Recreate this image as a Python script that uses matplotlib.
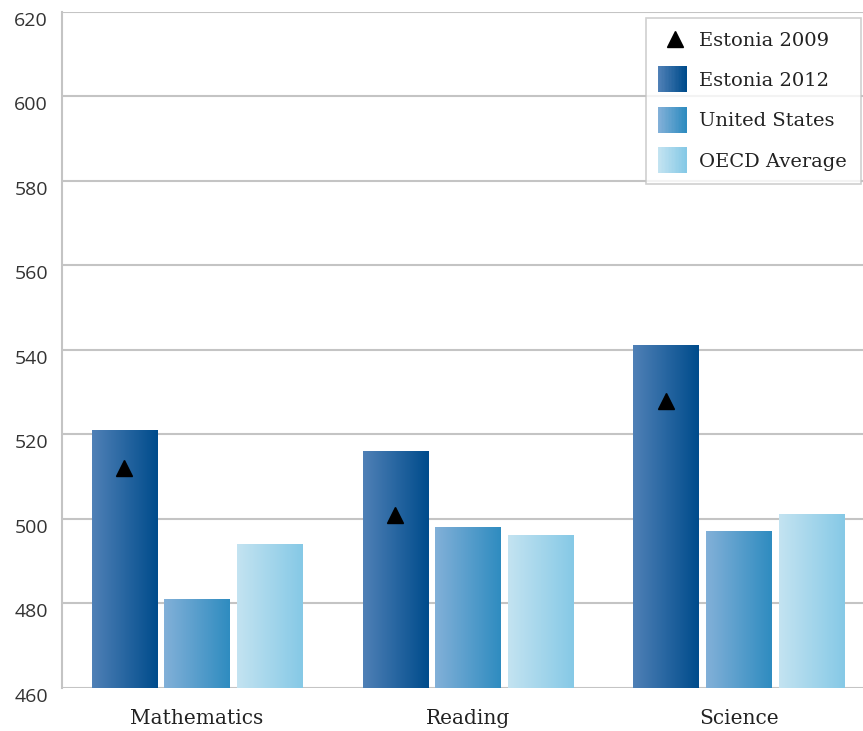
import numpy as np
import matplotlib
matplotlib.use("Agg")
import matplotlib.pyplot as plt
import matplotlib.transforms as mtransforms
from matplotlib.colors import LinearSegmentedColormap
from matplotlib.legend_handler import HandlerBase
from matplotlib.patches import Rectangle
from matplotlib.lines import Line2D

# data
subjects = ["Mathematics", "Reading", "Science"]
estonia_2012 = [521, 516, 541]
united_states = [481, 498, 497]
oecd_average = [494, 496, 501]
estonia_2009 = [512, 501, 528]
y_ticks = [460, 480, 500, 520, 540, 560, 580, 600, 620]

series_names = ["Estonia 2012", "United States", "OECD Average"]
gradients = [("#4f80b6", "#004c8c"), ("#82b0d8", "#2f8cc0"), ("#c3e3f1", "#86c9e6")]

y_min, y_max = 460, 620
bar_w = 0.24
step = 0.269


class GradientHandler(HandlerBase):
    def __init__(self, c0, c1):
        super().__init__()
        self.cmap = LinearSegmentedColormap.from_list("g", [c0, c1])

    def create_artists(self, legend, orig_handle, xdescent, ydescent,
                       width, height, fontsize, trans):
        n = 20
        arts = []
        h = height * 1.9
        y0 = -ydescent - (h - height) / 2
        w = h * 1.1
        x0 = -xdescent + (width - w) / 2 - 2
        for i in range(n):
            r = Rectangle((x0 + w * i / n, y0), w / n + 0.3, h,
                          facecolor=self.cmap(i / (n - 1)), edgecolor="none",
                          transform=trans)
            arts.append(r)
        return arts


fig = plt.figure(figsize=(8.63, 7.31), dpi=100)
ax = fig.add_axes([62 / 863, 1 - 688 / 731, 801 / 863, 676 / 731])

x = np.arange(len(subjects))
for k, vals in enumerate([estonia_2012, united_states, oecd_average]):
    c0, c1 = gradients[k]
    cmap = LinearSegmentedColormap.from_list("g%d" % k, [c0, c1])
    grad = np.linspace(0, 1, 64).reshape(1, -1)
    for i, v in enumerate(vals):
        cx = x[i] + (k - 1) * step
        ax.imshow(grad, cmap=cmap, aspect="auto", interpolation="bilinear",
                  extent=(cx - bar_w / 2, cx + bar_w / 2, y_min, v), zorder=2)

ax.plot(x - step, estonia_2009, linestyle="none", marker="^", color="black",
        markersize=12, zorder=3)

ax.set_xlim(-0.498, 2.458)
ax.set_ylim(y_min, y_max)
ax.set_yticks(y_ticks)
ax.set_yticklabels([])
ax.set_xticks(x)
ax.set_xticklabels(subjects, fontfamily="DejaVu Serif", fontsize=14.5,
                   color="#222222")

# y labels sit a little below their gridlines in the original
shift = mtransforms.ScaledTranslation(-14 / 100, -9 / 100, fig.dpi_scale_trans)
for v in y_ticks:
    ax.text(0, v, str(v), transform=ax.get_yaxis_transform() + shift,
            ha="right", va="center", fontfamily="Open Sans", fontsize=14,
            color="#333333", clip_on=False)

ax.tick_params(axis="both", length=0)
ax.tick_params(axis="x", pad=15)
ax.grid(axis="y", color="#c4c4c4", linewidth=1.5, zorder=0)
ax.set_axisbelow(True)
for s in ["top", "right", "bottom"]:
    ax.spines[s].set_visible(False)
ax.spines["left"].set_color("#c4c4c4")
ax.spines["left"].set_linewidth(1.5)

tri = Line2D([], [], linestyle="none", marker="^", color="black", markersize=12)
dummies = [Rectangle((0, 0), 1, 1) for _ in series_names]
handler_map = {d: GradientHandler(*gradients[i]) for i, d in enumerate(dummies)}
leg = ax.legend([tri] + dummies, ["Estonia 2009"] + series_names,
                handler_map=handler_map, loc="upper right",
                bbox_to_anchor=(0.997, 0.991),
                prop={"family": "DejaVu Serif", "size": 14},
                frameon=True, fancybox=False, edgecolor="#c4c4c4",
                handlelength=1.6, handletextpad=0.45, labelspacing=1.15,
                borderpad=0.7, borderaxespad=0.0)
leg.get_frame().set_linewidth(1.2)
for t in leg.get_texts():
    t.set_color("#222222")

fig.savefig("out.png", dpi=100)
